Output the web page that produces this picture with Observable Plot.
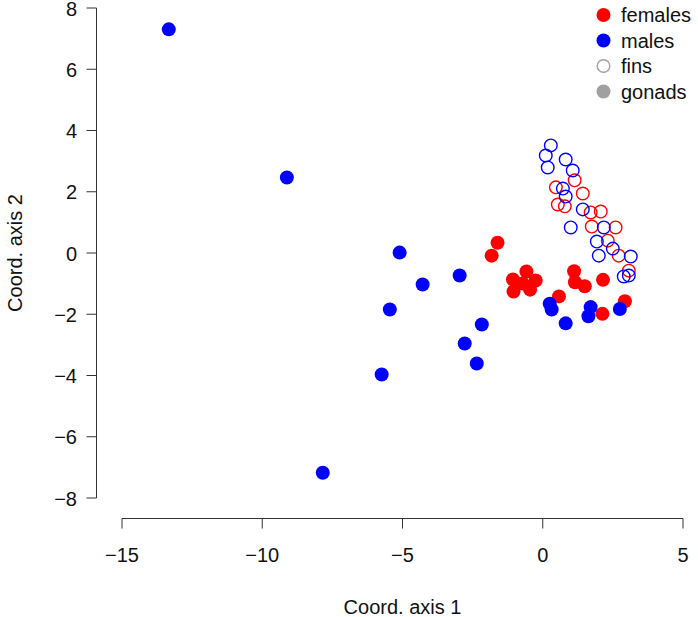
<!DOCTYPE html>
<html>
<head>
<meta charset="utf-8">
<script src="https://cdn.jsdelivr.net/npm/d3@7"></script>
<script src="https://cdn.jsdelivr.net/npm/@observablehq/plot@0.6"></script>
<style>
  html, body { margin: 0; padding: 0; background: #fff; }
  svg text { font-family: "Liberation Sans", Arial, Helvetica, sans-serif; }
</style>
</head>
<body>
<div id="chart"></div>
<script>
// PCoA scores: gonads (filled) and fins (open), by sex
const femalesGonadsX = [-1.63, -1.84, -0.60, -1.08, -0.27, -1.06, -0.47, -0.73, 1.10, 1.13, 1.48, 2.13, 0.56, 2.91, 2.11];
const femalesGonadsY = [0.35, -0.07, -0.59, -0.85, -0.88, -1.24, -1.18, -0.98, -0.58, -0.94, -1.07, -0.86, -1.40, -1.56, -1.97];

const malesGonadsX = [-13.35, -9.14, -5.12, -4.30, -5.47, -2.98, -2.19, -2.80, -2.37, -5.76, -7.86, 0.23, 0.30, 0.80, 1.69, 1.61, 2.73];
const malesGonadsY = [7.32, 2.48, 0.03, -1.01, -1.83, -0.72, -2.32, -2.94, -3.59, -3.95, -7.16, -1.64, -1.83, -2.28, -1.75, -2.05, -1.81];

const femalesFinsX = [1.12, 0.45, 1.41, 0.52, 0.77, 1.69, 2.05, 1.73, 2.58, 2.30, 2.69, 3.05];
const femalesFinsY = [2.39, 2.16, 1.96, 1.60, 1.54, 1.34, 1.37, 0.88, 0.85, 0.42, -0.07, -0.56];

const malesFinsX = [0.27, 0.09, 0.16, 0.80, 1.05, 0.70, 0.80, 1.41, 0.98, 2.16, 1.91, 1.98, 2.48, 3.12, 2.87, 3.05];
const malesFinsY = [3.53, 3.20, 2.81, 3.07, 2.71, 2.12, 1.86, 1.44, 0.85, 0.85, 0.39, -0.07, 0.16, -0.10, -0.75, -0.72];

const xTicks = [-15, -10, -5, 0, 5];
const yTicks = [-8, -6, -4, -2, 0, 2, 4, 6, 8];
const legendLabels = ["females", "males", "fins", "gonads"];

const red = "#ff0000";
const blue = "#0000ff";

const pts = (xs, ys) => xs.map((x, i) => ({x, y: ys[i]}));

const plot = Plot.plot({
  width: 698,
  height: 617,
  marginLeft: 122,
  marginRight: 15,
  marginTop: 8,
  marginBottom: 119,
  style: {overflow: "visible"},
  x: {domain: [-15, 5], axis: null},
  y: {domain: [-8, 8], axis: null},
  marks: [
    Plot.dot(pts(femalesFinsX, femalesFinsY), {x: "x", y: "y", r: 6.3, stroke: red, strokeWidth: 1.4, fill: "none"}),
    Plot.dot(pts(malesFinsX, malesFinsY), {x: "x", y: "y", r: 6.3, stroke: blue, strokeWidth: 1.4, fill: "none"}),
    Plot.dot(pts(femalesGonadsX, femalesGonadsY), {x: "x", y: "y", r: 7, fill: red}),
    Plot.dot(pts(malesGonadsX, malesGonadsY), {x: "x", y: "y", r: 7, fill: blue})
  ]
});

document.getElementById("chart").appendChild(plot);

// Base-graphics style axes, offset from the plotting region
const sx = plot.scale("x");
const sy = plot.scale("y");
const svg = d3.select(plot);
const axisColor = "#333";
const fontSize = 20;

const xAxisY = 518.5;
const gx = svg.append("g");
gx.append("line")
  .attr("x1", sx.apply(xTicks[0])).attr("x2", sx.apply(xTicks[xTicks.length - 1]))
  .attr("y1", xAxisY).attr("y2", xAxisY)
  .attr("stroke", axisColor);
gx.selectAll("line.tick").data(xTicks).join("line")
  .attr("class", "tick")
  .attr("x1", d => sx.apply(d)).attr("x2", d => sx.apply(d))
  .attr("y1", xAxisY).attr("y2", xAxisY + 10)
  .attr("stroke", axisColor);
gx.selectAll("text").data(xTicks).join("text")
  .attr("x", d => sx.apply(d)).attr("y", 555)
  .attr("text-anchor", "middle").attr("dominant-baseline", "central")
  .attr("font-size", fontSize).attr("fill", "#111")
  .text(d => d < 0 ? "\u2212" + Math.abs(d) : String(d));
gx.append("text")
  .attr("x", (sx.apply(xTicks[0]) + sx.apply(xTicks[xTicks.length - 1])) / 2).attr("y", 607)
  .attr("text-anchor", "middle").attr("dominant-baseline", "central")
  .attr("font-size", fontSize).attr("fill", "#111")
  .text("Coord. axis 1");

const yAxisX = 96.5;
const gy = svg.append("g");
gy.append("line")
  .attr("x1", yAxisX).attr("x2", yAxisX)
  .attr("y1", sy.apply(yTicks[0])).attr("y2", sy.apply(yTicks[yTicks.length - 1]))
  .attr("stroke", axisColor);
gy.selectAll("line.tick").data(yTicks).join("line")
  .attr("class", "tick")
  .attr("x1", yAxisX - 10).attr("x2", yAxisX)
  .attr("y1", d => sy.apply(d)).attr("y2", d => sy.apply(d))
  .attr("stroke", axisColor);
gy.selectAll("text").data(yTicks).join("text")
  .attr("x", 77).attr("y", d => sy.apply(d) + 0.5)
  .attr("text-anchor", "end").attr("dominant-baseline", "central")
  .attr("font-size", fontSize).attr("fill", "#111")
  .text(d => d < 0 ? "\u2212" + Math.abs(d) : String(d));
gy.append("text")
  .attr("transform", `translate(15,${sy.apply(0)}) rotate(-90)`)
  .attr("text-anchor", "middle").attr("dominant-baseline", "central")
  .attr("font-size", fontSize).attr("fill", "#111")
  .text("Coord. axis 2");

// Legend, top right
const legendStyles = [
  {fill: red, stroke: "none"},
  {fill: blue, stroke: "none"},
  {fill: "none", stroke: "#a0a0a0"},
  {fill: "#a0a0a0", stroke: "none"}
];
const gl = svg.append("g");
legendLabels.forEach((label, i) => {
  const cy = 15 + i * 25.5;
  const s = legendStyles[i];
  gl.append("circle")
    .attr("cx", 603.5).attr("cy", cy).attr("r", s.fill === "none" ? 6.3 : 7)
    .attr("fill", s.fill).attr("stroke", s.stroke).attr("stroke-width", 1.4);
  gl.append("text")
    .attr("x", 621).attr("y", cy)
    .attr("text-anchor", "start").attr("dominant-baseline", "central")
    .attr("font-size", fontSize).attr("fill", "#111")
    .text(label);
});
</script>
</body>
</html>
